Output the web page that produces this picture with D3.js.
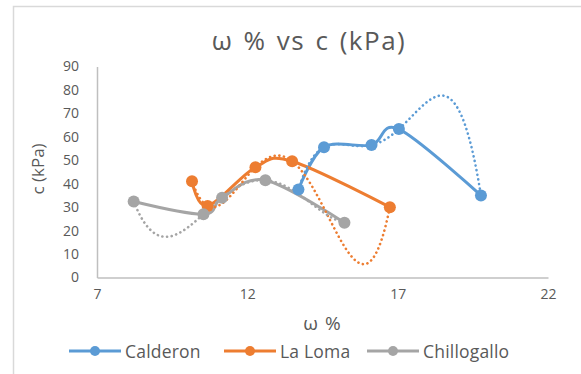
<!DOCTYPE html>
<html>
<head>
<meta charset="utf-8">
<script src="https://cdn.jsdelivr.net/npm/d3@7"></script>
<style>
  html, body { margin: 0; padding: 0; background: #fff; }
  svg { display: block; }
  text { font-family: "Open Sans", "DejaVu Sans", sans-serif; fill: #595959; }
</style>
</head>
<body>
<svg id="chart" width="581" height="374"></svg>
<script>
// Moisture content (ω %) and cohesion c (kPa) per site
const seriesNames = ["Calderon", "La Loma", "Chillogallo"];
const seriesColors = ["#5B9BD5", "#ED7D31", "#A5A5A5"];

const calderonW = [13.7, 14.55, 16.13, 17.04, 19.77];
const calderonC = [37.5, 55.6, 56.5, 63.3, 35.0];

const laLomaW = [10.16, 10.68, 12.27, 13.49, 16.74];
const laLomaC = [41.1, 30.5, 47.0, 49.6, 30.0];

const chillogalloW = [8.22, 10.54, 11.16, 12.6, 15.23];
const chillogalloC = [32.4, 27.0, 34.0, 41.5, 23.4];

const xTickValues = [7, 12, 17, 22];
const yTickValues = [0, 10, 20, 30, 40, 50, 60, 70, 80, 90];

const chartTitle = "ω % vs c (kPa)";
const xTitle = "ω %";
const yTitle = "c (kPa)";

const series = [
  { name: seriesNames[0], color: seriesColors[0], w: calderonW, c: calderonC },
  { name: seriesNames[1], color: seriesColors[1], w: laLomaW, c: laLomaC },
  { name: seriesNames[2], color: seriesColors[2], w: chillogalloW, c: chillogalloC }
].map(s => ({ ...s, pts: s.w.map((w, i) => ({ w, c: s.c[i] })) }));

// Least-squares polynomial trendline (order 4)
function polyFit(xs, ys, order) {
  const mx = d3.mean(xs);
  const n = order + 1;
  const A = Array.from({ length: n }, () => new Array(n + 1).fill(0));
  xs.forEach((x, k) => {
    const u = x - mx;
    for (let i = 0; i < n; i++) {
      for (let j = 0; j < n; j++) A[i][j] += Math.pow(u, i + j);
      A[i][n] += ys[k] * Math.pow(u, i);
    }
  });
  for (let i = 0; i < n; i++) {
    let p = i;
    for (let r = i + 1; r < n; r++) if (Math.abs(A[r][i]) > Math.abs(A[p][i])) p = r;
    [A[i], A[p]] = [A[p], A[i]];
    for (let r = 0; r < n; r++) {
      if (r === i) continue;
      const f = A[r][i] / A[i][i];
      for (let col = i; col <= n; col++) A[r][col] -= f * A[i][col];
    }
  }
  const coef = A.map((row, i) => row[n] / row[i]);
  return x => coef.reduce((acc, a, i) => acc + a * Math.pow(x - mx, i), 0);
}

const svg = d3.select("#chart");

// chart area frame
svg.append("rect")
  .attr("x", 13.5).attr("y", 6.5)
  .attr("width", 700).attr("height", 500)
  .attr("fill", "#fff").attr("stroke", "#D9D9D9").attr("stroke-width", 1.5);

const x = d3.scaleLinear().domain([7, 22]).range([97, 548]);
const y = d3.scaleLinear().domain([0, 90]).range([277.5, 66.5]);

// axes
const xAxis = svg.append("g")
  .attr("transform", `translate(0,${y(0)})`)
  .call(d3.axisBottom(x).tickValues(xTickValues).tickSize(0).tickPadding(12).tickFormat(d3.format("d")));
const yAxis = svg.append("g")
  .attr("transform", `translate(${x(7)},0)`)
  .call(d3.axisLeft(y).tickValues(yTickValues).tickSize(0).tickPadding(18).tickFormat(d3.format("d")));

[xAxis, yAxis].forEach(g => {
  g.select(".domain").attr("stroke", "#BFBFBF").attr("stroke-width", 1.5);
  g.selectAll("text").attr("font-size", 14).attr("fill", "#595959")
    .style("font-family", "'Open Sans', sans-serif");
});

// titles
svg.append("text")
  .attr("x", 309).attr("y", 50)
  .attr("text-anchor", "middle")
  .attr("font-size", 26)
  .attr("letter-spacing", 1.5)
  .attr("word-spacing", 2)
  .text(chartTitle);

svg.append("text")
  .attr("x", 322).attr("y", 330)
  .attr("text-anchor", "middle")
  .attr("font-size", 19)
  .attr("word-spacing", 2)
  .text(xTitle);

svg.append("text")
  .attr("transform", "translate(44,169) rotate(-90)")
  .attr("text-anchor", "middle")
  .attr("font-size", 17)
  .text(yTitle);

const smooth = d3.line()
  .x(d => x(d.w)).y(d => y(d.c))
  .curve(d3.curveCardinal.tension(0));

const plot = svg.append("g");

// series lines
series.forEach(s => {
  plot.append("path")
    .attr("d", smooth(s.pts))
    .attr("fill", "none")
    .attr("stroke", s.color)
    .attr("stroke-width", 3)
    .attr("stroke-linejoin", "round")
    .attr("stroke-linecap", "round");
});

// polynomial trendlines
series.forEach(s => {
  const f = polyFit(s.w, s.c, 4);
  const [lo, hi] = d3.extent(s.w);
  const samples = d3.range(0, 201).map(i => {
    const w = lo + (hi - lo) * i / 200;
    return { w, c: f(w) };
  });
  plot.append("path")
    .attr("d", d3.line().x(d => x(d.w)).y(d => y(d.c))(samples))
    .attr("fill", "none")
    .attr("stroke", s.color)
    .attr("stroke-width", 2.6)
    .attr("stroke-linecap", "round")
    .attr("stroke-dasharray", "0.1 4.6");
});

// markers
series.forEach(s => {
  plot.append("g").selectAll("circle")
    .data(s.pts)
    .join("circle")
    .attr("cx", d => x(d.w))
    .attr("cy", d => y(d.c))
    .attr("r", 6)
    .attr("fill", s.color);
});

// legend
const legendX = [69, 224, 367];
const legend = svg.append("g");
series.forEach((s, i) => {
  const g = legend.append("g").attr("transform", `translate(${legendX[i]},351)`);
  g.append("line").attr("x1", 0).attr("x2", 52).attr("y1", 0).attr("y2", 0)
    .attr("stroke", s.color).attr("stroke-width", 3);
  g.append("circle").attr("cx", 26).attr("cy", 0).attr("r", 5).attr("fill", s.color);
  g.append("text").attr("x", 56).attr("y", 6.5)
    .attr("font-size", 17.5)
    .attr("letter-spacing", 0.2)
    .text(s.name);
});
</script>
</body>
</html>
